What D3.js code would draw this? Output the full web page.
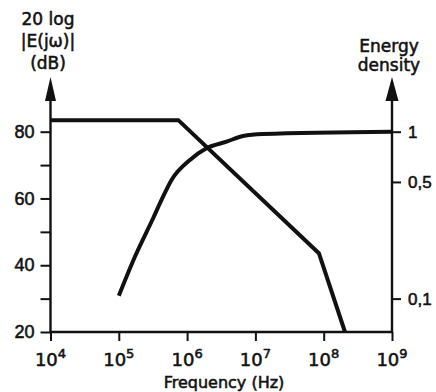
<!DOCTYPE html>
<html>
<head>
<meta charset="utf-8">
<script src="https://cdn.jsdelivr.net/npm/d3@7"></script>
<style>
  body { margin: 0; background: #fff; }
  svg { display: block; font-family: "DejaVu Sans", sans-serif; }
  .lbl { fill: #111; stroke: #111; stroke-width: 0.55px; }
</style>
</head>
<body>
<div id="chart"></div>
<script>
// frequency decades on the x axis (Hz)
const decades = [1e4, 1e5, 1e6, 1e7, 1e8, 1e9];
const decadeExp = ["4", "5", "6", "7", "8", "9"];

// left axis: 20 log |E(jw)| in dB
const dbTicks = [20, 30, 40, 50, 60, 70, 80];
const dbLabels = [20, 40, 60, 80];

// right axis: energy density (log)
const energyTicks = [1, 0.5, 0.1];
const energyLabels = ["1", "0,5", "0,1"];

// spectrum magnitude curve
const dbFreq = [1e4, 7.5e5, 8.5e7, 2.05e8];
const dbValue = [83.4, 83.4, 43.6, 20];

// cumulative energy density curve
const energyFreq = [1e5, 1.74e5, 3.18e5, 4.22e5, 5.92e5, 1.1e6, 1.92e6, 3.78e6, 6.6e6, 1.28e7, 1e9];
const energyValue = [0.104, 0.18, 0.303, 0.39, 0.514, 0.677, 0.796, 0.871, 0.943, 0.969, 1.0];

const W = 436, H = 392;
const svg = d3.select("#chart").append("svg")
  .attr("width", W).attr("height", H);

const x = d3.scaleLog().domain([1e4, 1e9]).range([50.5, 392]);
const yL = d3.scaleLinear().domain([20, 80]).range([332, 131.7]);
const yR = d3.scaleLog().domain([0.1, 1]).range([yL(30), yL(80)]);

const axisTop = 100;
const ink = "#111";

// axis lines (with arrows)
svg.append("line")
  .attr("x1", x(1e4)).attr("x2", x(1e4))
  .attr("y1", axisTop).attr("y2", yL(20))
  .attr("stroke", ink).attr("stroke-width", 2.4);
svg.append("line")
  .attr("x1", x(1e9)).attr("x2", x(1e9))
  .attr("y1", axisTop).attr("y2", yL(20))
  .attr("stroke", ink).attr("stroke-width", 2.4);

function arrow(cx, halfW) {
  svg.append("path")
    .attr("d", "M" + cx + "," + 77 + "L" + (cx + halfW) + "," + (axisTop + 1) +
      "L" + (cx - halfW) + "," + (axisTop + 1) + "Z")
    .attr("fill", ink);
}
arrow(x(1e4), 5.5);
arrow(x(1e9), 6.5);

// bottom axis
const xAxis = d3.axisBottom(x)
  .tickValues(decades)
  .tickSize(9)
  .tickFormat("");
const gx = svg.append("g")
  .attr("transform", "translate(0," + yL(20) + ")")
  .call(xAxis);
gx.select(".domain").attr("stroke", ink).attr("stroke-width", 2.4)
  .attr("d", "M" + x(1e4) + ",0H" + x(1e9));
gx.selectAll(".tick line").attr("stroke", ink).attr("stroke-width", 2);

const xl = svg.append("g");
decades.forEach(function (d, i) {
  const t = xl.append("text")
    .attr("class", "lbl")
    .attr("x", x(d))
    .attr("y", 366)
    .attr("text-anchor", "middle")
    .style("font-size", "18px");
  t.append("tspan").text("10");
  t.append("tspan").attr("dy", -8).style("font-size", "13px").text(decadeExp[i]);
});

svg.append("text")
  .attr("class", "lbl")
  .attr("x", 224)
  .attr("y", 388)
  .attr("text-anchor", "middle")
  .style("font-size", "16px")
  .text("Frequency (Hz)");

// left axis ticks
const yAxisL = d3.axisLeft(yL)
  .tickValues(dbTicks)
  .tickSize(10)
  .tickPadding(6)
  .tickFormat(function (d) { return dbLabels.indexOf(d) >= 0 ? d : ""; });
const gl = svg.append("g")
  .attr("transform", "translate(" + x(1e4) + ",0)")
  .call(yAxisL);
gl.select(".domain").remove();
gl.selectAll(".tick line").attr("stroke", ink).attr("stroke-width", 2);
gl.selectAll(".tick text")
  .attr("class", "lbl")
  .attr("font-family", null)
  .attr("font-size", null)
  .style("font-size", "18px");

// right axis ticks
const yAxisR = d3.axisRight(yR)
  .tickValues(energyTicks)
  .tickSize(9)
  .tickPadding(7)
  .tickFormat(function (d, i) { return energyLabels[i]; });
const gr = svg.append("g")
  .attr("transform", "translate(" + x(1e9) + ",0)")
  .call(yAxisR);
gr.select(".domain").remove();
gr.selectAll(".tick line").attr("stroke", ink).attr("stroke-width", 2);
gr.selectAll(".tick text")
  .attr("class", "lbl")
  .attr("font-family", null)
  .attr("font-size", null)
  .style("font-size", "17px");

// axis titles
const leftTitle = ["20 log", "|E(jω)|", "(dB)"];
const leftBase = [25, 46.5, 68.5];
leftTitle.forEach(function (s, i) {
  svg.append("text").attr("class", "lbl")
    .attr("x", 48).attr("y", leftBase[i])
    .attr("text-anchor", "middle")
    .style("font-size", "17px")
    .text(s);
});
const rightTitle = ["Energy", "density"];
const rightBase = [51.5, 70.5];
rightTitle.forEach(function (s, i) {
  svg.append("text").attr("class", "lbl")
    .attr("x", 389).attr("y", rightBase[i])
    .attr("text-anchor", "middle")
    .style("font-size", "17px")
    .text(s);
});

// curves
const dbLine = d3.line()
  .x(function (d) { return x(d[0]); })
  .y(function (d) { return yL(d[1]); });
svg.append("path")
  .datum(d3.zip(dbFreq, dbValue))
  .attr("d", dbLine)
  .attr("fill", "none")
  .attr("stroke", ink)
  .attr("stroke-width", 4)
  .attr("stroke-linejoin", "round");

const energyLine = d3.line()
  .curve(d3.curveMonotoneX)
  .x(function (d) { return x(d[0]); })
  .y(function (d) { return yR(d[1]); });
svg.append("path")
  .datum(d3.zip(energyFreq, energyValue))
  .attr("d", energyLine)
  .attr("fill", "none")
  .attr("stroke", ink)
  .attr("stroke-width", 4)
  .attr("stroke-linejoin", "round");
</script>
</body>
</html>
